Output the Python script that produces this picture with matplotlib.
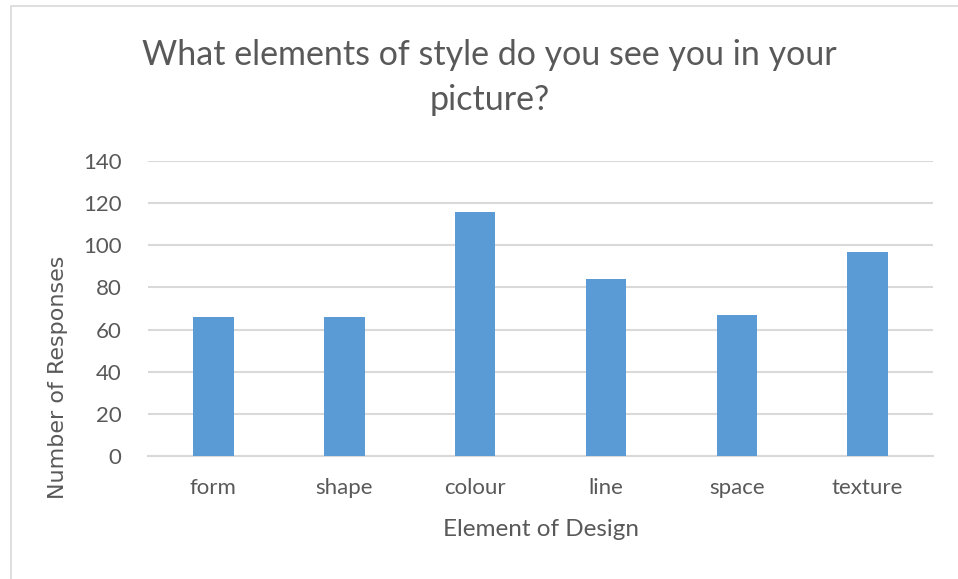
import matplotlib.pyplot as plt
from matplotlib.patches import Rectangle

categories = ['form', 'shape', 'colour', 'line', 'space', 'texture']
responses = [66, 66, 116, 84, 67, 97]
y_ticks = [0, 20, 40, 60, 80, 100, 120, 140]

text_col = '#595959'
grid_col = '#d9d9d9'
bar_col = '#5b9bd5'

plt.rcParams['font.family'] = ['Lato', 'DejaVu Sans']

fig = plt.figure(figsize=(9.58, 5.79), dpi=100)
ax = fig.add_axes([0.1545, 0.2124, 0.8195, 0.5095])

x = range(len(categories))
ax.bar(x, responses, width=0.31, color=bar_col, zorder=3)

ax.set_xlim(-0.5, len(categories) - 0.5)
ax.set_ylim(0, 140)
ax.set_yticks(y_ticks)
ax.set_xticks(list(x))
ax.set_xticklabels(categories)
ax.grid(axis='y', color=grid_col, linewidth=1.5, zorder=0)
ax.tick_params(length=0, labelsize=16, colors=text_col)
ax.tick_params(axis='x', pad=16)
ax.tick_params(axis='y', pad=19)
for s in ['top', 'right', 'left']:
    ax.spines[s].set_visible(False)
ax.spines['bottom'].set_color(grid_col)
ax.spines['bottom'].set_linewidth(1.5)

ax.set_xlabel('Element of Design', fontsize=17.5, color=text_col, labelpad=15)
ax.set_ylabel('Number of Responses', fontsize=16, color=text_col,
              family='DejaVu Sans')
ax.yaxis.set_label_coords(-0.102, 0.268)

fig.text(0.511, 0.905, 'What elements of style do you see you in your',
         ha='center', va='center', fontsize=24.5, color=text_col)
fig.text(0.511, 0.827, 'picture?', ha='center', va='center', fontsize=24.5,
         color=text_col)

fig.patches.append(Rectangle((0.011, -0.01), 1.0, 1.0, transform=fig.transFigure,
                             fill=False, edgecolor='#d9d9d9', linewidth=1.2))

fig.savefig('out.png', dpi=100)
